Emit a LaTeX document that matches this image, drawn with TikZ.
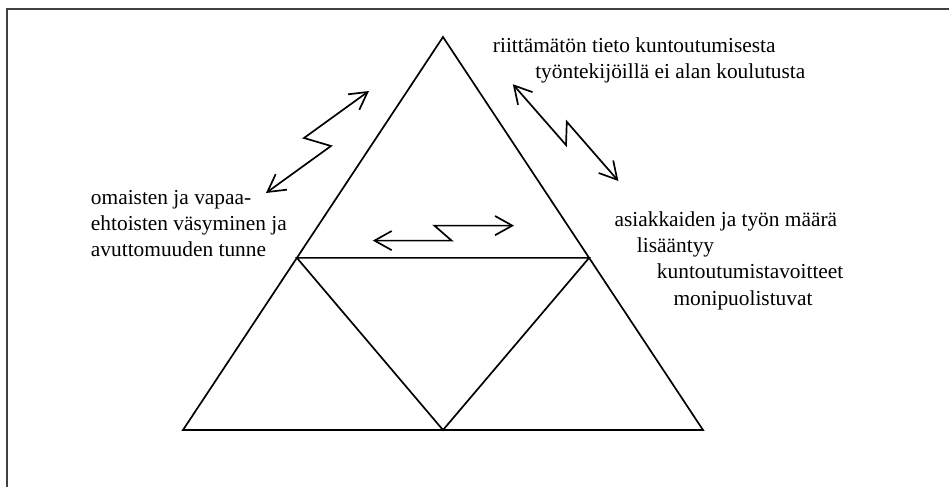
\documentclass[tikz,border=0pt]{standalone}
\usepackage{fontspec}
\setmainfont{Liberation Serif}
\usetikzlibrary{arrows.meta,calc}

\definecolor{framegray}{rgb}{0.25,0.25,0.25}
\tikzset{
  edgeline/.style={line width=1.2pt},
  zigzag/.style={line width=1.2pt,{Straight Barb[length=4.3mm,width=4.8mm]}-{Straight Barb[length=4.3mm,width=4.8mm]}},
  label/.style={inner sep=0pt,align=left,anchor=base west,font=\fontsize{15.2pt}{18.5pt}\selectfont}
}

\begin{document}
\begin{tikzpicture}
        \useasboundingbox (0,0) rectangle (23.725,12.175);
        % frame
        \draw[framegray,line width=1pt] (0.175,0) -- (0.175,11.95) -- (23.725,11.95);
        % big triangle
        \coordinate (top) at (11.075,11.25);
        \coordinate (bl) at (4.575,1.425);
        \coordinate (br) at (17.575,1.425);
        \coordinate (bm) at (11.075,1.425);
        \coordinate (ml) at ($(top)!0.562!(bl)$);
        \coordinate (mr) at ($(top)!0.562!(br)$);
        \draw[edgeline] (top) -- (bl) -- (br) -- cycle;
        \draw[edgeline] (ml) -- (mr) -- (bm) -- cycle;
        % arrows
        \coordinate (l1) at (6.65,7.35);
        \coordinate (l2) at (8.275,8.525);
        \coordinate (l3) at (7.6,8.725);
        \coordinate (l4) at (9.225,9.9);
        \draw[zigzag] (l1) -- (l2) -- (l3) -- (l4);
        \coordinate (r1) at (12.82,10.07);
        \coordinate (r2) at (14.15,8.55);
        \coordinate (r3) at (14.17,9.13);
        \coordinate (r4) at (15.46,7.65);
        \draw[zigzag] (r1) -- (r2) -- (r3) -- (r4);
        \coordinate (m1) at (9.32,6.16);
        \coordinate (m2) at (11.29,6.16);
        \coordinate (m3) at (10.86,6.535);
        \coordinate (m4) at (12.85,6.535);
        \draw[zigzag] (m1) -- (m2) -- (m3) -- (m4);
        % texts (placed at the baseline of the last line)
        \node[label](tieto) at (12.3175,10.2175) {riittämätön tieto kuntoutumisesta\\\hspace*{1.0575cm}työntekijöillä ei alan koulutusta};
        \node[label](omaiset) at (2.2675,5.7575) {omaisten ja vapaa-\\ehtoisten väsyminen ja\\avuttomuuden tunne};
        \node[label](asiakkaat) at (15.3575,4.55) {asiakkaiden ja työn määrä\\\hspace*{0.56cm}lisääntyy\\\hspace*{1.06cm}kuntoutumistavoitteet\\\hspace*{1.475cm}monipuolistuvat};
\end{tikzpicture}
\end{document}
